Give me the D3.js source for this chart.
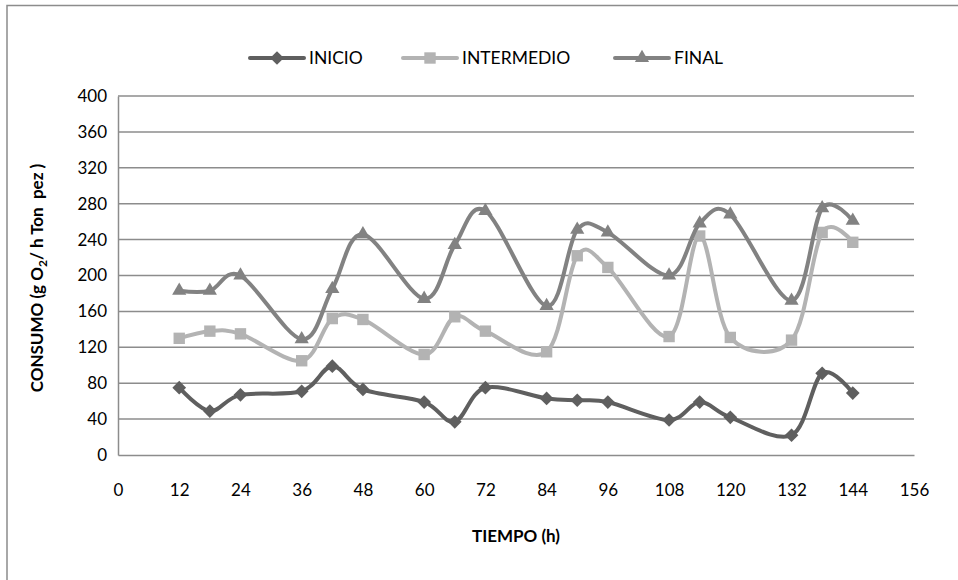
<!DOCTYPE html>
<html>
<head>
<meta charset="utf-8">
<script src="https://cdn.jsdelivr.net/npm/d3@7"></script>
<style>
  body { margin: 0; background: #fff; }
  text { font-family: Lato, "Open Sans", sans-serif; fill: #000; }
</style>
</head>
<body>
<div id="chart"></div>
<script>
// Data
const hours = [12, 18, 24, 36, 42, 48, 60, 66, 72, 84, 90, 96, 108, 114, 120, 132, 138, 144]
const inicio = [75, 49, 67, 71, 99, 73, 59, 37, 75, 63, 61, 59, 39, 59, 42, 22, 91, 69]
const intermedio = [130, 138, 135, 105, 152, 151, 112, 154, 138, 115, 222, 209, 132, 244, 131, 128, 248, 237]
const final = [183, 183, 200, 129, 185, 246, 174, 234, 272, 166, 251, 248, 200, 258, 268, 172, 275, 261]
const seriesNames = ["INICIO", "INTERMEDIO", "FINAL"]
const xTicks = d3.range(0, 157, 12)
const yTicks = d3.range(0, 401, 40)

const width = 958
const height = 580
const dimensions = {
    width,
    height,
    margins: { top: 96, right: 44, bottom: 125, left: 118 }
}
dimensions.boundedWidth = dimensions.width - dimensions.margins.left - dimensions.margins.right
dimensions.boundedHeight = dimensions.height - dimensions.margins.top - dimensions.margins.bottom

const series = [
    { name: seriesNames[0], values: inicio, color: "#5f5f5f", symbol: d3.symbolDiamond2, size: 120 },
    { name: seriesNames[1], values: intermedio, color: "#b3b3b3", symbol: d3.symbolSquare2, size: 165 },
    { name: seriesNames[2], values: final, color: "#828282", symbol: d3.symbolTriangle2, size: 145 }
]

const wrapper = d3.select("#chart").append("svg")
    .attr("width", dimensions.width)
    .attr("height", dimensions.height)

// chart border (only top/left visible in the frame)
wrapper.append("rect")
    .attr("x", 7)
    .attr("y", 5.5)
    .attr("width", 1000)
    .attr("height", 1000)
    .attr("fill", "none")
    .attr("stroke", "#8c8c8c")
    .attr("stroke-width", 1.5)

const bounds = wrapper.append("g")
    .attr("transform", `translate(${dimensions.margins.left}, ${dimensions.margins.top})`)

const xScale = d3.scaleLinear()
    .domain([0, 156])
    .range([0, dimensions.boundedWidth])

const yScale = d3.scaleLinear()
    .domain([0, 400])
    .range([dimensions.boundedHeight, 0])

// gridlines
bounds.selectAll(".grid")
    .data(yTicks.filter(d => d > 0))
    .enter().append("line")
    .attr("x1", 0)
    .attr("x2", dimensions.boundedWidth)
    .attr("y1", d => yScale(d))
    .attr("y2", d => yScale(d))
    .attr("stroke", "#8c8c8c")
    .attr("stroke-width", 1.5)

// axes
const xAxisGenerator = d3.axisBottom(xScale)
    .tickValues(xTicks)
    .tickSize(0)
    .tickPadding(29)
const xAxis = bounds.append("g")
    .attr("transform", `translate(0, ${dimensions.boundedHeight})`)
    .call(xAxisGenerator)
xAxis.select(".domain").attr("stroke", "#8c8c8c").attr("stroke-width", 1.5)
xAxis.selectAll("text").attr("font-size", "17px").attr("font-family", "Lato")

const yAxisGenerator = d3.axisLeft(yScale)
    .tickValues(yTicks)
    .tickSize(0)
    .tickPadding(11)
const yAxis = bounds.append("g")
    .call(yAxisGenerator)
yAxis.select(".domain").attr("stroke", "#8c8c8c").attr("stroke-width", 1.5)
yAxis.selectAll("text").attr("font-size", "17px").attr("font-family", "Lato")

// lines + markers
const lineGenerator = d3.line()
    .x((d, i) => xScale(hours[i]))
    .y(d => yScale(d))
    .curve(d3.curveCatmullRom.alpha(0))

series.forEach(s => {
    bounds.append("path")
        .attr("d", lineGenerator(s.values))
        .attr("fill", "none")
        .attr("stroke", s.color)
        .attr("stroke-width", 4)
        .attr("stroke-linejoin", "round")

    bounds.selectAll(null)
        .data(s.values)
        .enter().append("path")
        .attr("transform", (d, i) => `translate(${xScale(hours[i])}, ${yScale(d)})`)
        .attr("d", d3.symbol().type(s.symbol).size(s.size))
        .attr("fill", s.color)
})

// legend
const legendX = [250, 403, 615]
const legend = wrapper.selectAll(".legendItems")
    .data(series)
    .enter().append("g")
    .attr("transform", (d, i) => `translate(${legendX[i]}, 58)`)

legend.append("line")
    .attr("x1", 0)
    .attr("x2", 54)
    .attr("stroke", d => d.color)
    .attr("stroke-width", 4)
    .attr("stroke-linecap", "round")
legend.append("path")
    .attr("transform", "translate(27, 0)")
    .attr("d", d => d3.symbol().type(d.symbol).size(d.size)())
    .attr("fill", d => d.color)
legend.append("text")
    .attr("x", 59)
    .attr("dy", "0.36em")
    .attr("font-size", "17.5px")
    .text(d => d.name)

// axis titles
wrapper.append("text")
    .attr("x", 516)
    .attr("y", 542)
    .attr("text-anchor", "middle")
    .attr("font-size", "17px")
    .attr("font-weight", "700")
    .text("TIEMPO (h)")

const yTitle = wrapper.append("text")
    .attr("transform", "translate(43, 278) rotate(-90)")
    .attr("text-anchor", "middle")
    .attr("font-size", "17px")
    .attr("font-weight", "700")
yTitle.append("tspan").text("CONSUMO (g O")
yTitle.append("tspan").attr("font-size", "12px").attr("dy", 4).text("2")
yTitle.append("tspan").attr("dy", -4).text("/ h Ton\u00a0 pez )")
</script>
</body>
</html>
